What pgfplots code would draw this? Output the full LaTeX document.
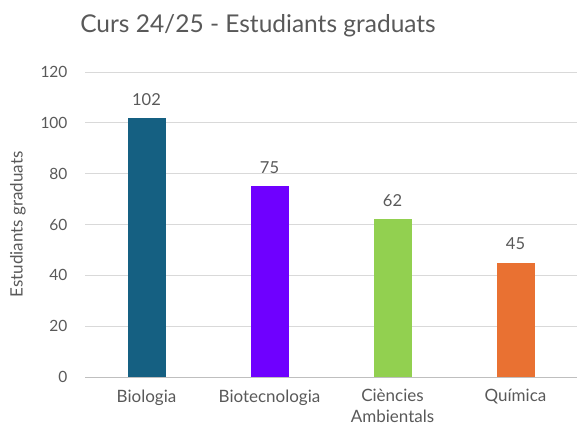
\documentclass[border=0pt]{standalone}
\usepackage{fontspec}
\setmainfont{Lato}
\usepackage{pgfplots}
\pgfplotsset{compat=1.18}

\definecolor{txt}{HTML}{595959}
\definecolor{gridc}{HTML}{D9D9D9}
\definecolor{cBio}{HTML}{156082}
\definecolor{cBiotec}{HTML}{6F00FF}
\definecolor{cAmb}{HTML}{92D050}
\definecolor{cQui}{HTML}{E97132}

\begin{document}
\begin{tikzpicture}
\path[use as bounding box] (0,0) rectangle (577bp,428bp);
\node[anchor=base, font=\fontsize{24.5bp}{28bp}\selectfont, text=txt] at (258bp,395bp) {Curs 24/25 - Estudiants graduats};
\begin{axis}[
    at={(85bp,51bp)}, anchor=south west,
    scale only axis,
    width=492bp, height=305bp,
    ybar, bar width=38bp, bar shift=0pt,
    xmin=-0.5, xmax=3.5,
    ymin=0, ymax=120,
    ytick={0,20,...,120},
    xtick={0,1,2,3},
    xticklabels={Biologia, Biotecnologia, {Ciències\\Ambientals}, Química},
    axis line style={draw=none},
    major tick length=0pt,
    ymajorgrids, grid style={gridc, line width=0.8pt},
    extra y ticks={0}, extra y tick labels={},
    extra y tick style={grid style={color=black!25, line width=0.8pt}},
    tick label style={text=txt},
    yticklabel style={font=\fontsize{15.5bp}{18bp}\selectfont, xshift=-14bp},
    /pgf/number format/assume math mode=true,
    xticklabel style={font=\fontsize{17bp}{21bp}\selectfont, align=center, yshift=-9bp},
    ylabel={Estudiants graduats},
    every axis y label/.style={at={(axis description cs:0,0.5)}, xshift=-67bp, rotate=90, anchor=center, font=\fontsize{17bp}{20bp}\selectfont, text=txt},
    nodes near coords,
    nodes near coords style={font=\fontsize{16.5bp}{19bp}\selectfont, text=txt, yshift=9bp},
]
\addplot[fill=cBio, draw=none] coordinates {(0,102)};
\addplot[fill=cBiotec, draw=none] coordinates {(1,75)};
\addplot[fill=cAmb, draw=none] coordinates {(2,62)};
\addplot[fill=cQui, draw=none] coordinates {(3,45)};
\end{axis}
\end{tikzpicture}
\end{document}
